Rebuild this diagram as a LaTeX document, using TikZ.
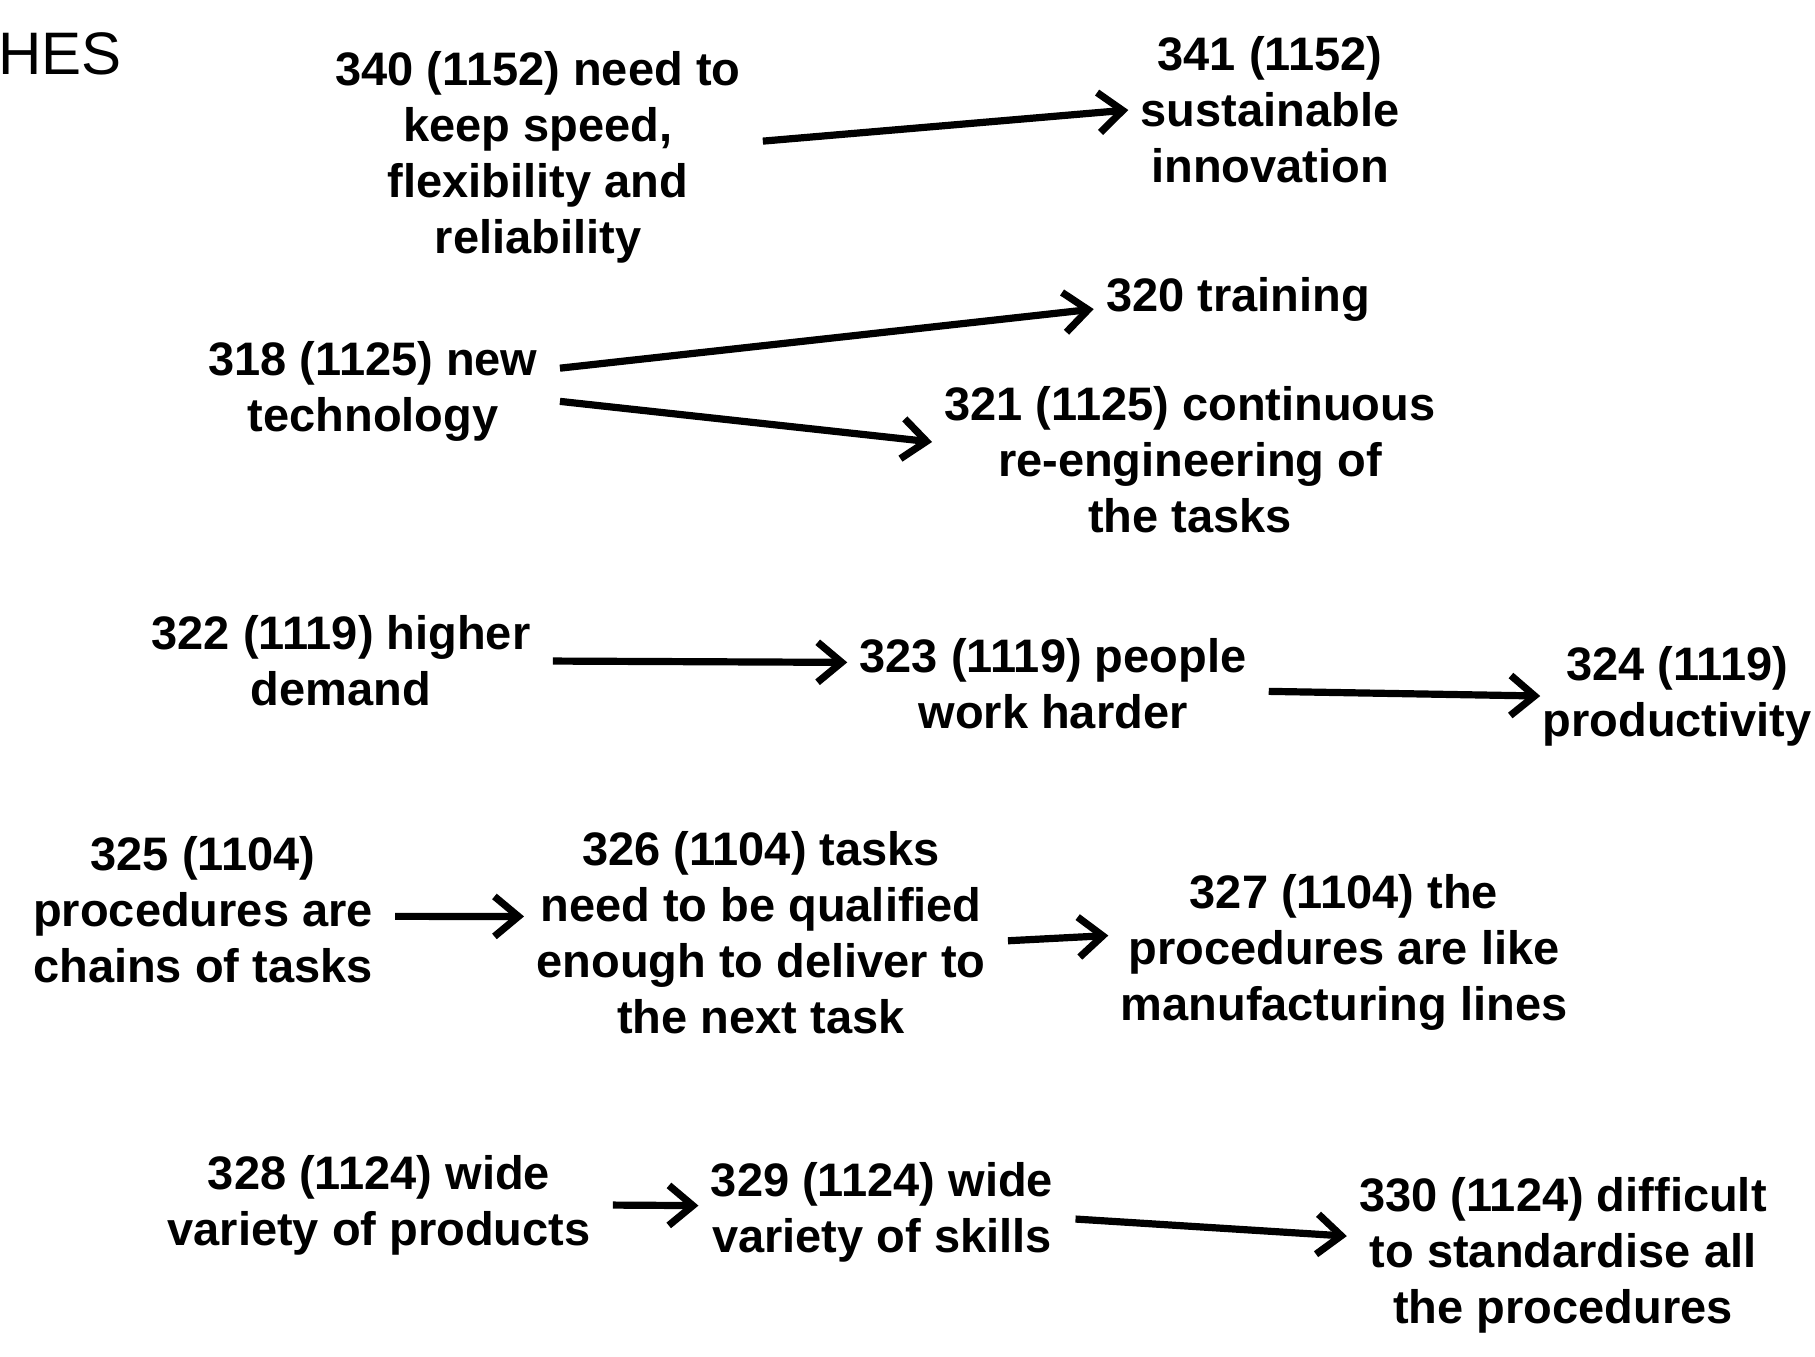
\documentclass[tikz,border=0pt]{standalone}
\usepackage{fontspec}
\setmainfont{Liberation Sans}
\usetikzlibrary{arrows.meta}

\begin{document}
\begin{tikzpicture}[x=0.5pt, y=-0.5pt,
    idea/.style={align=center, inner sep=6pt, font=\bfseries\fontsize{23.5}{28}\selectfont},
    lead/.style={-{Straight Barb[length=12pt,width=20pt]}, line width=3.6pt, shorten <=5pt}]

        % Page frame (coordinates are in pixels, y pointing down)
        \useasboundingbox (0,0) rectangle (1815,1356);

        % Heading, cut by the left edge
        \node[anchor=west, inner sep=0, font=\fontsize{30}{36}\selectfont] (head) at (-2,54) {HES};

        % Speed and innovation
        \node[idea] (N340) at (538,157) {340 (1152) need to\\keep speed,\\flexibility and\\reliability};
        \node[idea] (N341) at (1270,110) {341 (1152)\\sustainable\\innovation};

        % New technology
        \node[idea] (N318) at (373,391) {318 (1125) new\\technology};
        \node[idea] (N320) at (1238,299) {320 training};
        \node[idea] (N321) at (1190,460) {321 (1125) continuous\\re-engineering of\\the tasks};

        % Demand
        \node[idea] (N322) at (341,661) {322 (1119) higher\\demand};
        \node[idea] (N323) at (1053,684) {323 (1119) people\\work harder};
        \node[idea, anchor=east, inner sep=1pt] (N324) at (1814,696) {324 (1119)\\productivity};

        % Procedures
        \node[idea] (N325) at (203,910) {325 (1104)\\procedures are\\chains of tasks};
        \node[idea] (N326) at (761,933) {326 (1104) tasks\\need to be qualified\\enough to deliver to\\the next task};
        \node[idea] (N327) at (1344,952) {327 (1104) the\\procedures are like\\manufacturing lines};

        % Variety
        \node[idea] (N328) at (379,1205) {328 (1124) wide\\variety of products};
        \node[idea] (N329) at (882,1212) {329 (1124) wide\\variety of skills};
        \node[idea] (N330) at (1563,1255) {330 (1124) difficult\\to standardise all\\the procedures};

        % Loop to draw the arrows between the ideas
        \foreach \a/\b in {N340.4/N341.west, N318.7/N320.184, N318.-3/N321.176,
                           N322.east/N323.174, N323.-2/N324.west,
                           N325.-2/N326.176, N326.-2/N327.176,
                           N328.east/N329.178, N329.-2/N330.175} {
            \draw[lead] (\a) -- (\b);
        }

    \end{tikzpicture}
\end{document}
